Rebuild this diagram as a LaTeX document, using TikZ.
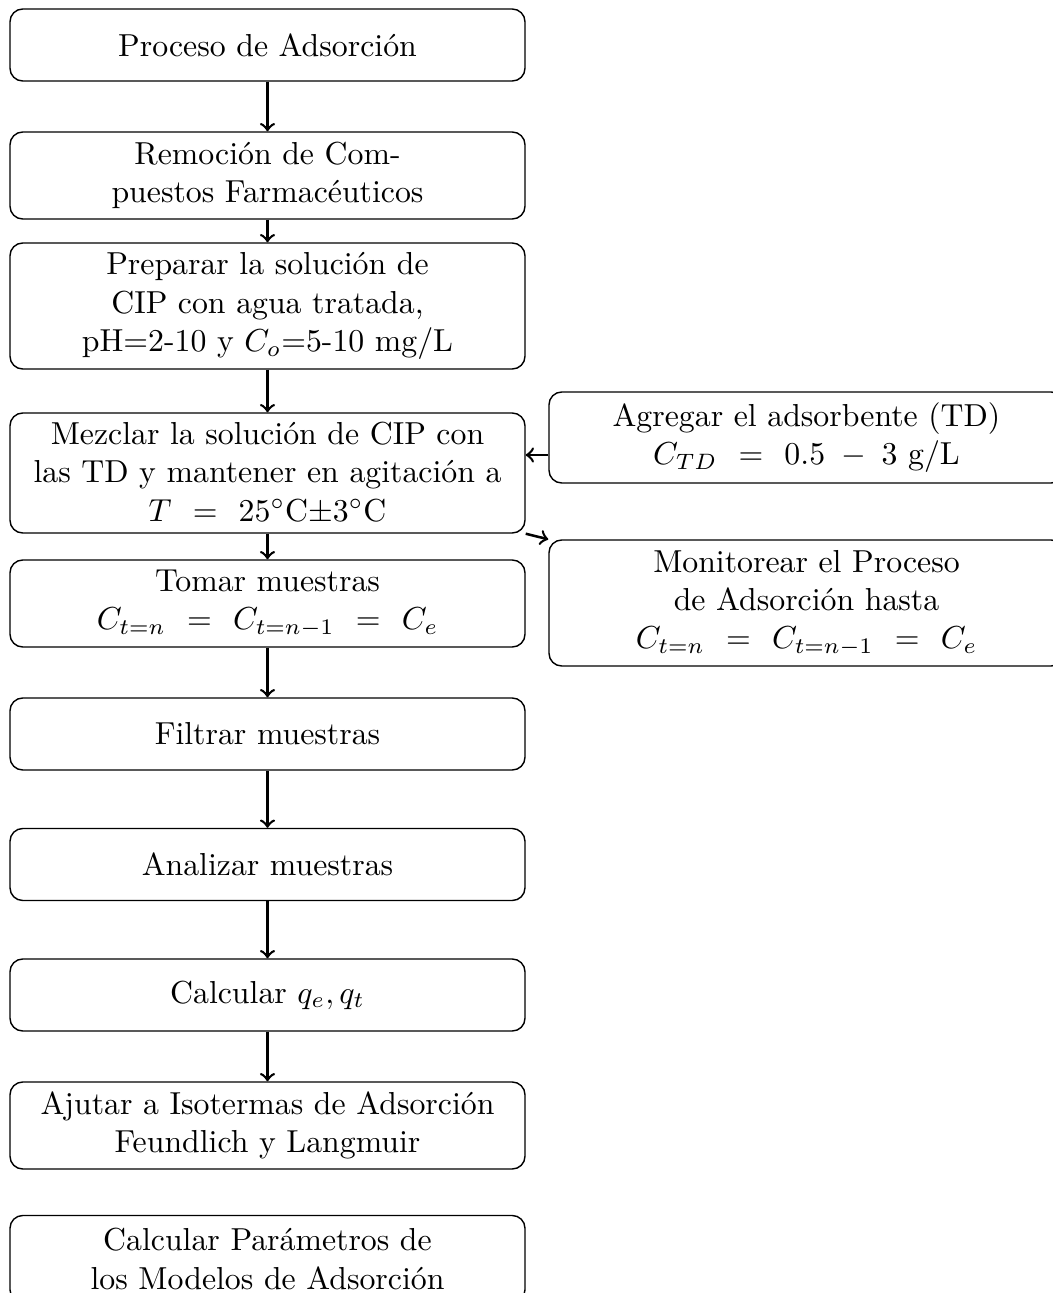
\documentclass[tikz,border=0pt]{standalone}
\usepackage{amsmath}
\begin{document}
\begin{tikzpicture}[x=0.3145pt, y=-0.3145pt,
  stepbox/.style={draw, line width=0.45pt, rounded corners=4pt, align=center,
    inner xsep=2pt, inner ysep=1pt, minimum width=515*0.3145pt,
    minimum height=#1*0.3145pt},
  arr/.style={->, line width=0.8pt}]
\useasboundingbox (0,0) rectangle (1053,1293);

% main column
\node[stepbox=72]  (n1) at (267.5,45)    {Proceso de Adsorción};
\node[stepbox=87]  (n2) at (267.5,175.5) {Remoción de Com-\\puestos Farmacéuticos};
\node[stepbox=126] (n3) at (267.5,306)   {Preparar la solución de\\CIP con agua tratada,\\pH=2-10 y $C_o$=5-10 mg/L};
\node[stepbox=120] (n4) at (267.5,473)   {Mezclar la solución de CIP con\\las TD y mantener en agitación a\\$T\mskip12mu{=}\mskip12mu 25^{\circ}$C$\pm$3$^{\circ}$C};
\node[stepbox=87]  (n5) at (267.5,603.5) {Tomar muestras\\$C_{t=n}\mskip12mu{=}\mskip12mu C_{t=n-1}\mskip12mu{=}\mskip12mu C_e$};
\node[stepbox=72]  (n6) at (267.5,734)   {Filtrar muestras};
\node[stepbox=72]  (n7) at (267.5,864.5) {Analizar muestras};
\node[stepbox=72]  (n8) at (267.5,995)   {Calcular $q_e, q_t$};
\node[stepbox=87]  (n9) at (267.5,1125.5) {Ajutar a Isotermas de Adsorción\\Feundlich y Langmuir};
\node[stepbox=87]  (n10) at (267.5,1259) {Calcular Parámetros de\\los Modelos de Adsorción};

% side column
\node[stepbox=91]  (nA) at (806.5,437.5) {Agregar el adsorbente (TD)\\$C_{TD}\mskip12mu{=}\mskip12mu 0.5\mskip9mu{-}\mskip9mu 3$ g/L};
\node[stepbox=126] (nM) at (806.5,603)   {Monitorear el Proceso\\de Adsorción hasta\\$C_{t=n}\mskip12mu{=}\mskip12mu C_{t=n-1}\mskip12mu{=}\mskip12mu C_e$};

% connectors
\draw[arr] (n1) -- (n2);
\draw[arr] (n2) -- (n3);
\draw[arr] (n3) -- (n4);
\draw[arr] (n4) -- (n5);
\draw[arr] (n5) -- (n6);
\draw[arr] (n6) -- (n7);
\draw[arr] (n7) -- (n8);
\draw[arr] (n8) -- (n9);
\draw[arr] ([yshift=-5.5pt]nA.west) -- ([yshift=-5.5pt]nA.west -| n4.east);
\draw[arr] (n4.south east) -- (nM.north west);
\end{tikzpicture}
\end{document}
